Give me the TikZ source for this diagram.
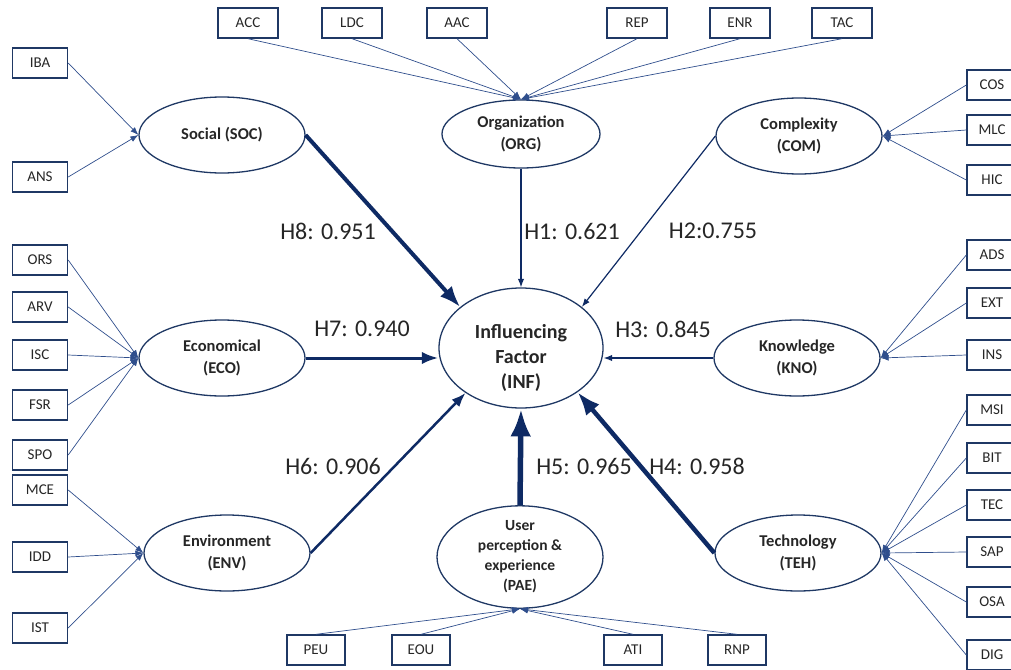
\documentclass[tikz,border=0pt]{standalone}
\usepackage{fontspec}
\setmainfont{Carlito}
\usetikzlibrary{shapes.geometric, arrows.meta}
\definecolor{navy}{HTML}{1F3864}
\definecolor{deep}{HTML}{0E2A64}
\definecolor{lnk}{HTML}{2F4E8C}
\definecolor{ink}{HTML}{262626}

\begin{document}
\begin{tikzpicture}[x=1pt, y=-1pt,
  ind/.style={draw=navy, line width=1.4pt, minimum width=58pt, minimum height=30pt, inner sep=0pt, text=ink, font=\fontsize{15}{18}\selectfont},
  lat/.style={ellipse, draw=navy, line width=1.3pt, inner sep=0pt, minimum width=166pt, minimum height=76pt, align=center, text=ink, font=\fontsize{16.5}{22}\selectfont\bfseries},
  load/.style={draw=lnk, line width=0.7pt, -{Latex[length=8pt,width=6pt]}},
  hyp/.style={draw=deep, line width=#1, -{Latex}},
  lbl/.style={text=ink, font=\fontsize{24}{28}\selectfont}]
\path[use as bounding box] (0,0) rectangle (1011,669);
\clip (0,0) rectangle (1011,669);

\node[lat, minimum width=164pt, minimum height=120pt] (inf) at (521,348) {};
\node[align=center, text=ink, font=\fontsize{20}{25}\selectfont\bfseries] (inftxt) at (521,358) {Influencing\\Factor\\(INF)};
\node[lat] (soc) at (222,135) {Social (SOC)};
\node[lat, minimum width=158pt, minimum height=68pt] (org) at (521,134) {Organization\\(ORG)};
\node[lat] (com) at (799,136) {Complexity\\(COM)};
\node[lat] (eco) at (222,358) {Economical\\(ECO)};
\node[lat] (kno) at (797,358) {Knowledge\\(KNO)};
\node[lat] (env) at (227,553) {Environment\\(ENV)};
\node[lat] (teh) at (798,553) {Technology\\(TEH)};
\node[lat, minimum height=78pt, font=\fontsize{15.5}{20}\selectfont\bfseries] (pae) at (520,557) {User\\perception \&\\experience\\(PAE)};

\draw[hyp=4pt] (soc.east) -- (inf.146);
\draw[hyp=1.2pt] (org.south) -- (inf.north);
\draw[hyp=1.2pt] (com.west) -- (inf.34);
\draw[hyp=3pt] (eco.east) -- (eco.east -| inf.west);
\draw[hyp=1.2pt] (kno.west) -- (kno.west -| inf.east);
\draw[hyp=2.5pt] (env.east) -- (inf.219);
\draw[hyp=5.5pt] (pae.north) -- (inf.south);
\draw[hyp=4.5pt] (teh.west) -- (inf.322);

\node[lbl] (h8) at (328,231) {H8: 0.951};
\node[lbl] (h1) at (572,231) {H1: 0.621};
\node[lbl] (h2) at (713,231) {H2:0.755};
\node[lbl] (h7) at (362,329) {H7: 0.940};
\node[lbl] (h3) at (663,329) {H3: 0.845};
\node[lbl] (h6) at (333,466) {H6: 0.906};
\node[lbl] (h5) at (584,466) {H5: 0.965};
\node[lbl] (h4) at (697,466) {H4: 0.958};

\foreach \n/\x in {ACC/248,LDC/352,AAC/457,REP/637,ENR/740,TAC/842} {
  \node[ind, minimum width=60pt] (\n) at (\x,23) {\n};
  \draw[load] (\n.south) -- (org.north);
}
\foreach \n/\y in {IBA/63,ANS/177} {
  \node[ind, minimum width=55pt] (\n) at (40,\y) {\n};
  \draw[load] (\n.east) -- (soc.west);
}
\foreach \n/\y in {ORS/260,ARV/307,ISC/355,FSR/405,SPO/455} {
  \node[ind, minimum width=55pt] (\n) at (40,\y) {\n};
  \draw[load] (\n.east) -- (eco.west);
}
\foreach \n/\y in {MCE/490,IDD/557,IST/628} {
  \node[ind, minimum width=55pt] (\n) at (40,\y) {\n};
  \draw[load] (\n.east) -- (env.west);
}
\foreach \n/\y in {COS/85,MLC/130,HIC/180} {
  \node[ind, minimum width=50pt] (\n) at (992,\y) {\n};
  \draw[load] (\n.west) -- (com.east);
}
\foreach \n/\y in {ADS/255,EXT/303,INS/355} {
  \node[ind, minimum width=50pt] (\n) at (992,\y) {\n};
  \draw[load] (\n.west) -- (kno.east);
}
\foreach \n/\y in {MSI/410,BIT/458,TEC/505,SAP/552,OSA/602,DIG/655} {
  \node[ind, minimum width=50pt] (\n) at (992,\y) {\n};
  \draw[load] (\n.west) -- (teh.east);
}
\foreach \n/\x in {PEU/316,EOU/421,ATI/633,RNP/737} {
  \node[ind] (\n) at (\x,650) {\n};
  \draw[load] (\n.north) -- (pae.south);
}
\end{tikzpicture}
\end{document}
